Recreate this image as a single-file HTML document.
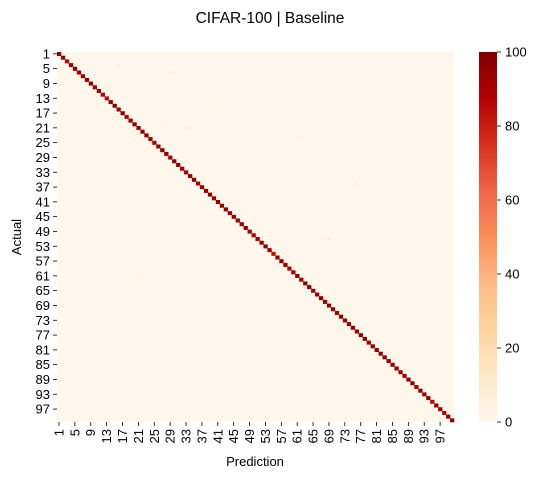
<!DOCTYPE html>
<html><head><meta charset="utf-8"><style>
body{margin:0;background:#fff;}
svg{display:block;font-family:"Liberation Sans","DejaVu Sans",sans-serif;}
</style></head><body>
<svg id="chart" width="543" height="479" xmlns="http://www.w3.org/2000/svg">
<text x="270" y="23" text-anchor="middle" font-size="15.5">CIFAR-100 | Baseline</text>
<g id="cells"></g>
<g id="yticks"></g>
<g id="xticks"></g>
<text transform="translate(21,237) rotate(-90)" text-anchor="middle" font-size="13">Actual</text>
<text x="255" y="466" text-anchor="middle" font-size="13">Prediction</text>
<defs><linearGradient id="cbg" x1="0" y1="1" x2="0" y2="0">
<stop offset="0" stop-color="#fff7ec"/><stop offset="0.125" stop-color="#fee8c8"/><stop offset="0.25" stop-color="#fdd49e"/><stop offset="0.375" stop-color="#fdbb84"/><stop offset="0.5" stop-color="#fc8d59"/><stop offset="0.625" stop-color="#ef6548"/><stop offset="0.75" stop-color="#d7301f"/><stop offset="0.875" stop-color="#b30000"/><stop offset="1" stop-color="#7f0000"/>
</linearGradient></defs>
<rect x="479" y="52" width="18" height="370" fill="url(#cbg)"/>
<g id="cbticks"></g>
</svg>
<script>
const classes = 100;
const diagValues = [96,94,86,95,94,96,93,94,97,91,94,88,86,95,96,93,97,89,94,96,91,95,94,93,90,96,94,95,87,97,
94,91,93,95,96,88,94,95,97,93,96,95,94,91,96,93,95,94,90,89,
91,94,96,93,85,94,96,95,88,93,94,91,96,95,93,94,96,91,95,94,
90,96,94,93,95,91,94,96,90,95,93,94,96,91,95,93,94,90,96,95,
91,94,93,95,86,96,94,91,95,94];
const offRows = [3,10,5,18,20,50,55,22,70,12,35,60];
const offCols = [15,12,28,27,32,68,58,60,58,40,75,20];
const offValues = [6,4,5,4,5,8,4,3,4,3,3,3];
const cbTicks = [0,20,40,60,80,100];
const X0=57,Y0=52,W=397,H=370,cw=W/classes,ch=H/classes;
const stops=["#fff7ec","#fee8c8","#fdd49e","#fdbb84","#fc8d59","#ef6548","#d7301f","#b30000","#7f0000"];
function hx(c){return [1,3,5].map(i=>parseInt(c.substr(i,2),16));}
function color(v){let t=Math.max(0,Math.min(1,v/100))*(stops.length-1);let i=Math.min(Math.floor(t),stops.length-2),f=t-i;
const a=hx(stops[i]),b=hx(stops[i+1]);return "rgb("+a.map((x,k)=>Math.round(x+(b[k]-x)*f)).join(",")+")";}
const xS=j=>X0+j*cw, yS=i=>Y0+i*ch;
const NS="http://www.w3.org/2000/svg";
const cells=document.getElementById("cells");
function mk(tag,attrs,parent){const e=document.createElementNS(NS,tag);for(const k in attrs)e.setAttribute(k,attrs[k]);parent.appendChild(e);return e;}
const bg=mk("rect",{x:X0,y:Y0,width:W,height:H,fill:color(0.3)},cells);


offRows.forEach((r,k)=>{const e=mk("rect",{x:xS(offCols[k]),y:yS(r),width:cw+0.3,height:ch+0.3,fill:color(offValues[k])},cells);

});
diagValues.forEach((v,i)=>{const e=mk("rect",{x:xS(i),y:yS(i),width:cw+0.3,height:ch+0.3,fill:color(v)},cells);

});
const yt=document.getElementById("yticks"),xt=document.getElementById("xticks");
for(let i=0;i<classes;i+=4){
 const y=yS(i)+ch/2;
 mk("line",{x1:X0-4,x2:X0,y1:y,y2:y,stroke:"#000","stroke-width":0.8},yt);
 const t=mk("text",{x:X0-7,y:y+4.5,"text-anchor":"end","font-size":13},yt);t.textContent=i+1;
 
 
 const x=xS(i)+cw/2;
 mk("line",{x1:x,x2:x,y1:Y0+H,y2:Y0+H+4,stroke:"#000","stroke-width":0.8},xt);
 const u=mk("text",{transform:"translate("+(x+4.5)+","+(Y0+H+7)+") rotate(-90)","text-anchor":"end","font-size":13},xt);u.textContent=i+1;
 
 
}
const cb=document.getElementById("cbticks");
cbTicks.forEach(v=>{const y=Y0+H-v/100*H;
 mk("line",{x1:497,x2:501,y1:y,y2:y,stroke:"#000","stroke-width":0.8},cb);
 const t=mk("text",{x:505,y:y+4.5,"font-size":13},cb);t.textContent=v;
 
 });
</script>
</body></html>
